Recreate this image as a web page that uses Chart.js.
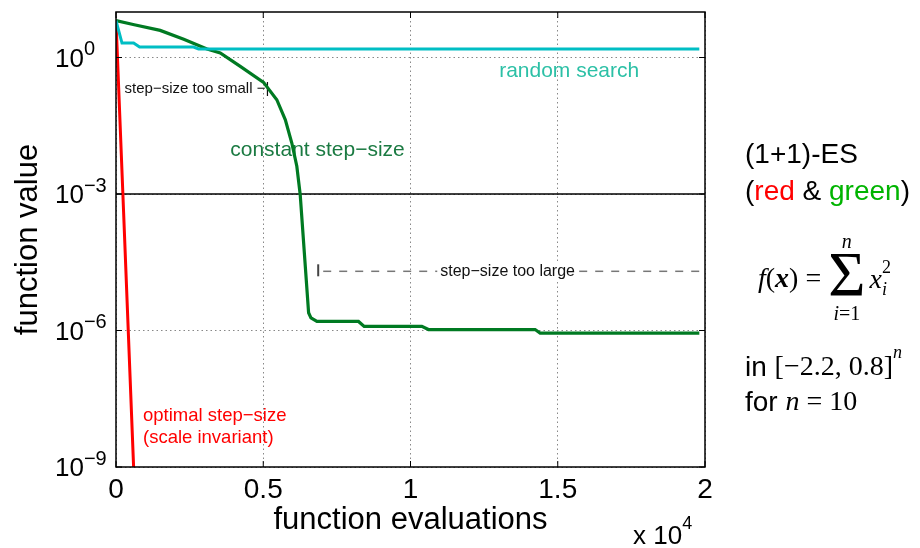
<!DOCTYPE html>
<html>
<head>
<meta charset="utf-8">
<script src="https://cdn.jsdelivr.net/npm/chart.js@4.4.0/dist/chart.umd.min.js"></script>
<style>
  body { margin: 0; background: #fff; }
  #wrap { width: 920px; height: 548px; }
</style>
</head>
<body>
<div id="wrap"><canvas id="es-chart" width="920" height="548"></canvas></div>
<script>
// (1+1)-ES on the sphere, n = 10: function value vs. function evaluations
const optimalEvals = [0, 258, 598];
const optimalValues = [6.46, 4.0e-4, 1e-9];

const constantEvals = [0, 620, 1500, 2300, 3090, 3540, 4220, 5010, 5460, 5750, 5970, 6140,
    6255, 6540, 6620, 6822, 8234, 8427, 10386, 10610, 14231, 14401, 19807];
const constantValues = [6.46, 5.26, 3.94, 2.52, 1.54, 1.26, 0.637, 0.284, 0.118, 0.0427, 0.0132, 0.00407,
    9.7e-4, 2.45e-6, 1.9e-6, 1.58e-6, 1.58e-6, 1.23e-6, 1.23e-6, 1.05e-6, 1.05e-6, 8.8e-7, 8.8e-7];

const randomEvals = [0, 204, 598, 801, 2634, 2804, 19807];
const randomValues = [6.46, 2.08, 2.08, 1.70, 1.70, 1.54, 1.54];

const xTicks = [0, 0.5, 1, 1.5, 2];          // x 10^4
const yTickExponents = [0, -3, -6, -9];

const SANS = '"Liberation Sans", Arial, Helvetica, sans-serif';
const SERIF = '"Liberation Serif", "Times New Roman", serif';

const toPoints = (xs, ys) => xs.map((x, i) => ({ x: x, y: ys[i] }));

// draws a row of text pieces with different fonts/colours, left to right
function drawRuns(ctx, x, y, parts) {
    ctx.textAlign = 'left';
    ctx.textBaseline = 'middle';
    parts.forEach(([text, font, color, dy]) => {
        ctx.font = font;
        ctx.fillStyle = color || '#000';
        ctx.fillText(text, x, y + (dy || 0));
        x += ctx.measureText(text).width;
    });
    return x;
}

function label(ctx, text, px, py, font, color) {
    ctx.font = font;
    ctx.fillStyle = color;
    ctx.textAlign = 'left';
    ctx.textBaseline = 'middle';
    ctx.fillText(text, px, py);
}

const decorations = {
    id: 'decorations',
    beforeDatasetsDraw(chart) {
        const { ctx, chartArea: a, scales: { x, y } } = chart;
        ctx.save();

        // solid reference line at 1e-3
        const y3 = y.getPixelForValue(1e-3);
        ctx.strokeStyle = '#000';
        ctx.lineWidth = 1.3;
        ctx.beginPath();
        ctx.moveTo(a.left, y3);
        ctx.lineTo(a.right, y3);
        ctx.stroke();

        // "too large" marker: bar + dashed line with label on white
        const yl = y.getPixelForValue(2.0e-5);
        const xl = x.getPixelForValue(6866);
        ctx.strokeStyle = '#777';
        ctx.lineWidth = 1.5;
        ctx.setLineDash([8, 8]);
        ctx.beginPath();
        ctx.moveTo(xl + 5, yl);
        ctx.lineTo(a.right, yl);
        ctx.stroke();
        ctx.setLineDash([]);
        ctx.strokeStyle = '#444';
        ctx.lineWidth = 2;
        ctx.beginPath();
        ctx.moveTo(xl, yl - 7);
        ctx.lineTo(xl, yl + 5);
        ctx.stroke();

        ctx.font = '16px ' + SANS;
        const tl = 'step\u2212size too large';
        const tx = x.getPixelForValue(11010);
        const tw = ctx.measureText(tl).width;
        ctx.fillStyle = '#fff';
        ctx.fillRect(tx - 3, yl - 9, tw + 6, 18);
        label(ctx, tl, tx, yl, '16px ' + SANS, '#111');

        label(ctx, 'step\u2212size too small \u2212|', x.getPixelForValue(290), y.getPixelForValue(0.2),
            '15px ' + SANS, '#111');
        label(ctx, 'constant step\u2212size', x.getPixelForValue(3880), y.getPixelForValue(9.4e-3),
            '21px ' + SANS, '#1b7a42');
        label(ctx, 'random search', x.getPixelForValue(13010), y.getPixelForValue(0.488),
            '21px ' + SANS, '#2cc0a6');
        label(ctx, 'optimal step\u2212size', x.getPixelForValue(916), y.getPixelForValue(1.34e-8),
            '18.5px ' + SANS, '#f00');
        label(ctx, '(scale invariant)', x.getPixelForValue(916), y.getPixelForValue(4.4e-9),
            '18.5px ' + SANS, '#f00');
        ctx.restore();
    },
    afterDatasetsDraw(chart) {
        const { ctx, chartArea: a, scales: { x, y } } = chart;
        ctx.save();
        ctx.strokeStyle = '#000';
        ctx.lineWidth = 1;
        ctx.beginPath();
        xTicks.forEach(t => {
            const px = x.getPixelForValue(t * 1e4);
            ctx.moveTo(px, a.bottom); ctx.lineTo(px, a.bottom - 6);
            ctx.moveTo(px, a.top); ctx.lineTo(px, a.top + 6);
        });
        yTickExponents.forEach(e => {
            const py = y.getPixelForValue(Math.pow(10, e));
            ctx.moveTo(a.left, py); ctx.lineTo(a.left + 6, py);
            ctx.moveTo(a.right, py); ctx.lineTo(a.right - 6, py);
        });
        ctx.stroke();
        ctx.lineWidth = 1.5;
        ctx.strokeRect(a.left, a.top, a.right - a.left, a.bottom - a.top);
        ctx.restore();
    },
    afterDraw(chart) {
        const { ctx, chartArea: a, scales: { y } } = chart;
        ctx.save();

        // log tick labels 10^k
        yTickExponents.forEach(e => {
            const py = y.getPixelForValue(Math.pow(10, e));
            drawRuns(ctx, 55, py + 2, [
                ['10', '26px ' + SANS],
                [e === 0 ? '0' : '\u2212' + (-e), '20px ' + SANS, '#000', -10]
            ]);
        });

        // axis titles
        ctx.fillStyle = '#000';
        ctx.font = '31px ' + SANS;
        ctx.textAlign = 'center';
        ctx.textBaseline = 'middle';
        ctx.fillText('function evaluations', (a.left + a.right) / 2, 520);
        ctx.save();
        ctx.translate(28, (a.top + a.bottom) / 2);
        ctx.rotate(-Math.PI / 2);
        ctx.fillText('function value', 0, 0);
        ctx.restore();
        drawRuns(ctx, 633, 537, [
            ['x 10', '26px ' + SANS],
            ['4', '18px ' + SANS, '#000', -13]
        ]);

        // side notes
        const L = 745;
        drawRuns(ctx, L, 155, [['(1+1)-ES', '28px ' + SANS]]);
        drawRuns(ctx, L, 192, [
            ['(', '28px ' + SANS], ['red', '28px ' + SANS, '#f00'],
            [' & ', '28px ' + SANS], ['green', '28px ' + SANS, '#00b400'],
            [')', '28px ' + SANS]
        ]);

        let fx = drawRuns(ctx, 758, 280, [
            ['f', 'italic 28px ' + SERIF], ['(', '28px ' + SERIF],
            ['x', 'italic bold 28px ' + SERIF], [')', '28px ' + SERIF],
            [' = ', '28px ' + SERIF]
        ]);
        ctx.font = '64px ' + SERIF;
        const sw = ctx.measureText('\u03A3').width;
        drawRuns(ctx, fx, 279, [['\u03A3', '64px ' + SERIF]]);
        const cx = fx + sw / 2;
        ctx.textAlign = 'center';
        ctx.font = 'italic 20px ' + SERIF;
        ctx.fillText('n', cx, 243);
        const iw = ctx.measureText('i').width;
        ctx.font = '20px ' + SERIF;
        const rw = ctx.measureText('=1').width;
        drawRuns(ctx, cx - (iw + rw) / 2, 315, [['i', 'italic 20px ' + SERIF], ['=1', '20px ' + SERIF]]);
        const xx = drawRuns(ctx, fx + sw + 4, 281, [['x', 'italic 28px ' + SERIF]]);
        drawRuns(ctx, xx, 290, [['i', 'italic 18px ' + SERIF]]);
        drawRuns(ctx, xx, 268, [['2', '18px ' + SERIF]]);

        let ix = drawRuns(ctx, L, 368, [['in ', '28px ' + SANS], ['[\u22122.2, 0.8]', '28px ' + SERIF]]);
        drawRuns(ctx, ix, 353, [['n', 'italic 18px ' + SERIF]]);
        drawRuns(ctx, L, 403, [
            ['for ', '28px ' + SANS], ['n', 'italic 28px ' + SERIF], [' = 10', '28px ' + SERIF]
        ]);
        ctx.restore();
    }
};

new Chart(document.getElementById('es-chart'), {
    type: 'line',
    data: {
        datasets: [
            {
                label: 'random search',
                data: toPoints(randomEvals, randomValues),
                borderColor: 'rgb(0, 190, 196)',
                borderWidth: 3
            },
            {
                label: 'constant step-size',
                data: toPoints(constantEvals, constantValues),
                borderColor: 'rgb(0, 122, 34)',
                borderWidth: 3.2
            },
            {
                label: 'optimal step-size',
                data: toPoints(optimalEvals, optimalValues),
                borderColor: 'rgb(255, 0, 0)',
                borderWidth: 3
            }
        ]
    },
    options: {
        responsive: false,
        animation: false,
        layout: { padding: { top: 12, right: 215, left: 0, bottom: 0 } },
        elements: { point: { radius: 0 }, line: { tension: 0 } },
        plugins: { legend: { display: false }, tooltip: { enabled: false } },
        scales: {
            x: {
                type: 'linear',
                min: 0,
                max: 20000,
                afterBuildTicks: s => { s.ticks = xTicks.map(v => ({ value: v * 1e4 })); },
                afterFit: s => { s.height = 81; },
                ticks: {
                    callback: v => String(v / 1e4),
                    font: { family: SANS, size: 28 },
                    color: '#000',
                    padding: 6,
                    maxRotation: 0,
                    autoSkip: false
                },
                grid: { color: '#888', lineWidth: 1, drawTicks: false },
                border: { display: false, dash: [1.5, 3] }
            },
            y: {
                type: 'logarithmic',
                min: 1e-9,
                max: 10,
                afterBuildTicks: s => { s.ticks = yTickExponents.map(e => ({ value: Math.pow(10, e) })); },
                afterFit: s => { s.width = 116; },
                ticks: { display: false },
                grid: { color: '#888', lineWidth: 1, drawTicks: false },
                border: { display: false, dash: [1.5, 3] }
            }
        }
    },
    plugins: [decorations]
});
</script>
</body>
</html>
